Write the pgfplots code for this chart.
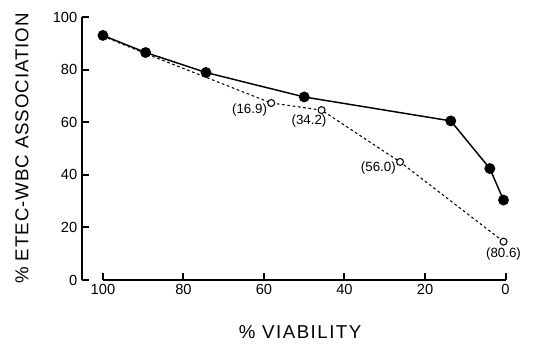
\documentclass[border=0pt]{standalone}
\usepackage{fontspec}
\setmainfont{Liberation Sans}
\newfontfamily\xlab[LetterSpace=8]{Liberation Sans}
\newfontfamily\ylab[LetterSpace=5]{Liberation Sans}
\usepackage{pgfplots}
\pgfplotsset{compat=1.18}
\begin{document}
\begin{tikzpicture}
\begin{axis}[
  scale only axis,
  width=317.6pt, height=197.25pt,
  x dir=reverse,
  xmin=0, xmax=105.2, ymin=0, ymax=100,
  axis x line*=bottom, axis y line*=left,
  x axis line style={draw=none},
  y axis line style={line width=1.5pt, -},
  xtick={0,20,40,60,80,100}, ytick={0,20,40,60,80,100},
  tick align=inside,
  major tick length=5.25pt,
  every tick/.style={black, line width=1.5pt},
  tick label style={font=\fontsize{11}{12}\selectfont},
  /pgf/number format/assume math mode=true,
  xlabel={\xlab\fontsize{14}{15}\selectfont \% VIABILITY},
  ylabel={\ylab\fontsize{14}{15}\selectfont \% ETEC-WBC ASSOCIATION},
  xlabel style={at={(axis description cs:0.515,-0.198)}, anchor=center},
  ylabel style={at={(axis description cs:-0.142,0.5)}, anchor=center, rotate=0},
  clip=false,
]
\draw[line width=1.5pt] (axis cs:100,0) -- (axis cs:0,0);
\addplot[black, line width=0.8pt, dash pattern=on 2pt off 2pt,
  mark=*, mark options={solid, fill=white, line width=0.8pt}, mark size=2.6pt]
  coordinates {(100,92.7) (89.4,86.1) (58.2,67.3) (45.7,64.6) (26.2,44.9) (0.5,14.6)};
\addplot[black, line width=1.1pt, mark=*, mark options={fill=black}, mark size=3.5pt]
  coordinates {(100,93.0) (89.4,86.5) (74.4,78.9) (50,69.6) (13.6,60.5) (3.9,42.4) (0.5,30.4)};
\begin{scope}[every node/.style={font=\fontsize{10}{11}\selectfont, inner sep=0pt}]
\node[anchor=east] at ([xshift=-3pt,yshift=-5pt]axis cs:58.2,67.3) {(16.9)};
\node[anchor=north] at ([xshift=-9.4pt,yshift=-3pt]axis cs:45.7,64.6) {(34.2)};
\node[anchor=east] at ([xshift=-3pt,yshift=-4.5pt]axis cs:26.2,44.9) {(56.0)};
\node[anchor=north] at ([xshift=0pt,yshift=-4.5pt]axis cs:0.5,14.6) {(80.6)};
\end{scope}
\end{axis}
\path ([xshift=-61.5pt,yshift=-45pt]current axis.south west) rectangle ([xshift=22.1pt,yshift=12.75pt]current axis.north east);
\end{tikzpicture}
\end{document}
